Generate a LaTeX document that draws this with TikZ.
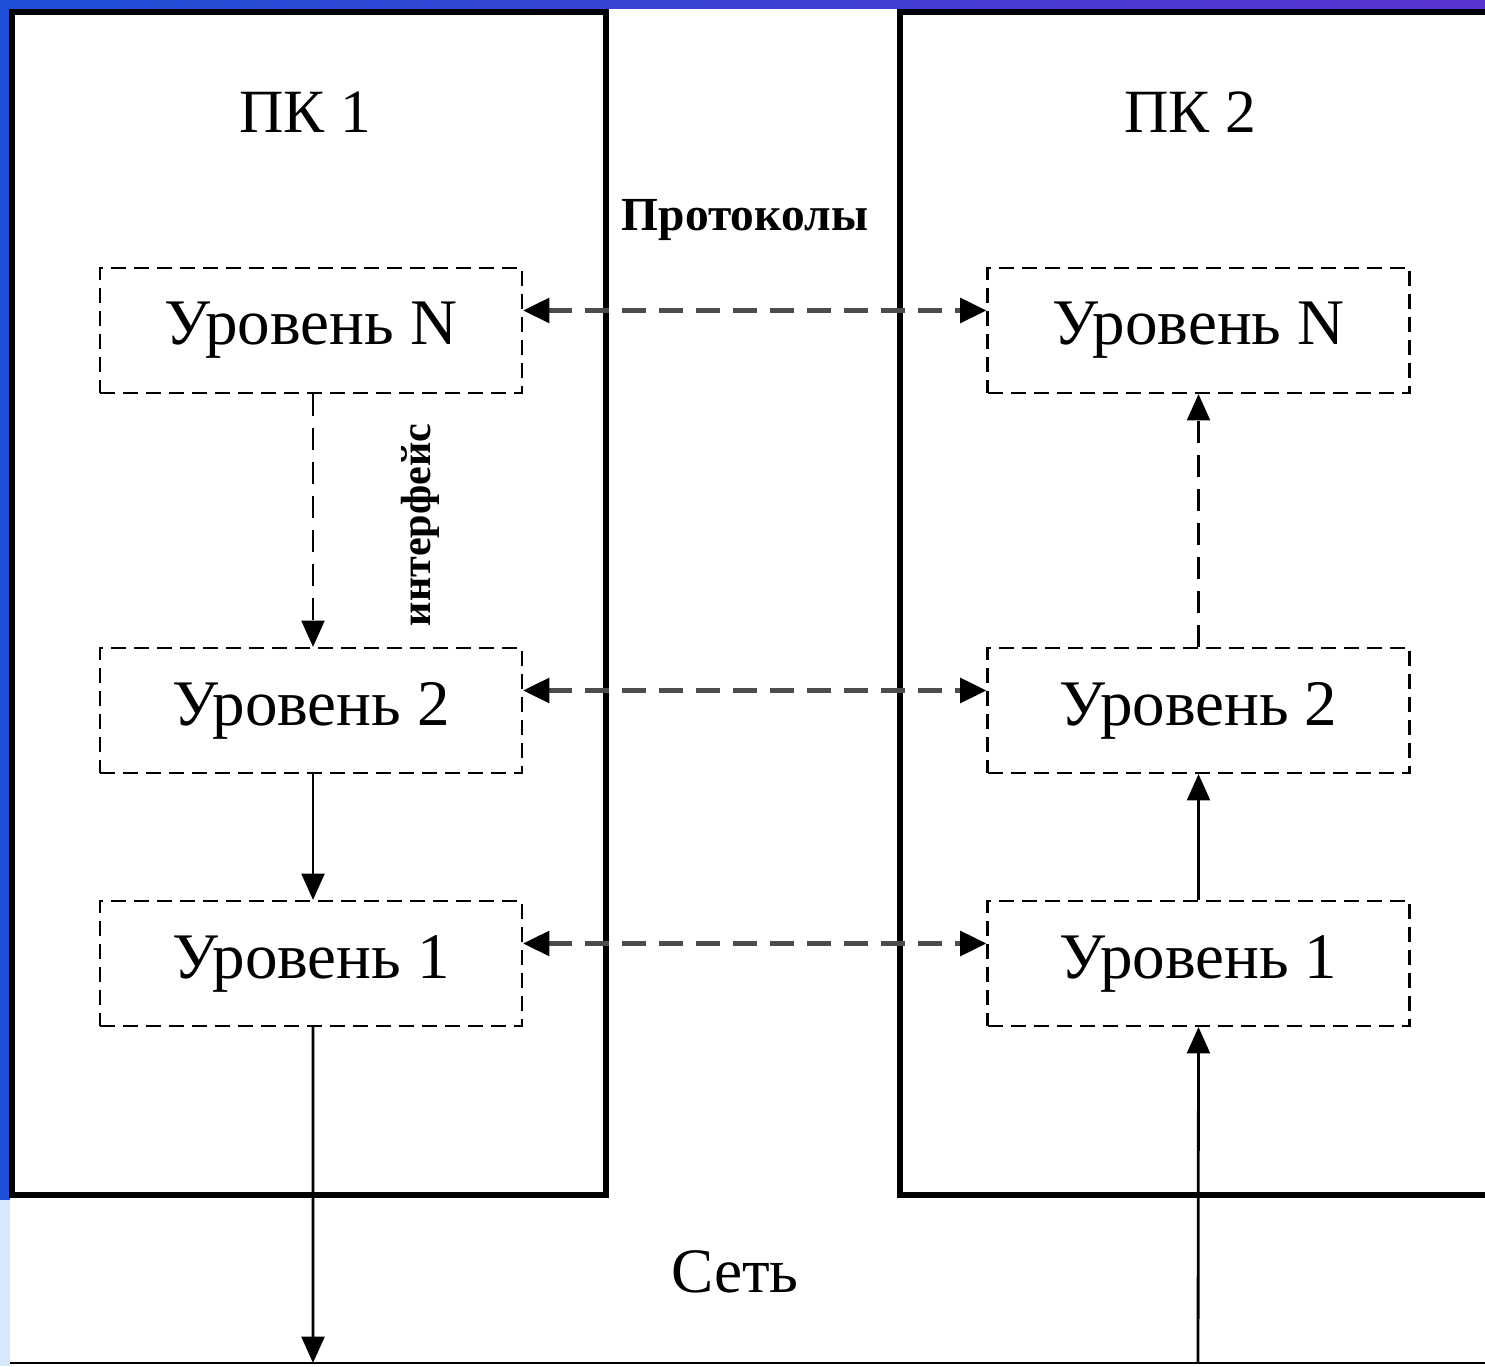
\documentclass[tikz,border=0pt]{standalone}
\usepackage{fontspec}
\setmainfont{Liberation Serif}
\usetikzlibrary{arrows.meta,positioning}

\definecolor{slideblue}{RGB}{30,80,215}
\definecolor{slideviolet}{RGB}{90,50,210}
\definecolor{slidelight}{RGB}{215,232,250}

\begin{document}
\begin{tikzpicture}[
		levelbox/.style={draw, line width=0.6pt, dash pattern=on 1.5mm off 0.8mm, minimum width=4.22cm, minimum height=1.25cm, inner sep=0pt, font=\fontsize{18.5}{22}\selectfont},
		pcbox/.style={line width=1.5pt},
		tip/.style={-{Triangle[length=7.5pt,width=6.5pt]}},
		protoline/.style={line width=1.2pt, color=black!70, dash pattern=on 2.4mm off 1.3mm, {Triangle[length=7.5pt,width=7pt,color=black]}-{Triangle[length=7.5pt,width=7pt,color=black]}},
		ifaceline/.style={tip, line width=0.8pt, dash pattern=on 2.2mm off 1.2mm},
		linkline/.style={tip, line width=0.8pt}
	]
		%%%%% START %%%%%
		
		\useasboundingbox (0, 0) rectangle (14.85, 13.66);
		\fill[white] (0, 0) rectangle (14.85, 13.66);
		
		\shade[left color=slideblue, right color=slideviolet] (0, 13.57) rectangle (14.85, 13.66);
		\fill[slideblue] (0, 1.66) rectangle (0.10, 13.66);
		\fill[slidelight] (0, 0) rectangle (0.10, 1.66);
		
		\draw[pcbox] (0.12, 13.54) rectangle (6.06, 1.71);
		\draw[pcbox] (9.00, 13.54) rectangle (15.20, 1.71);
		
		\node (pc1) at (3.05, 12.54) {\fontsize{17.5}{20}\selectfont ПК 1};
		\node (pc2) at (11.90, 12.54) {\fontsize{17.5}{20}\selectfont ПК 2};
		\node (proto) at (7.45, 11.46) {\fontsize{13.5}{16}\selectfont\bfseries Протоколы};
		\node[rotate=90] (iface) at (4.20, 8.41) {\fontsize{12}{14}\selectfont\bfseries интерфейс};
		\node (net) at (7.35, 0.94) {\fontsize{18}{21}\selectfont Сеть};
		
		\node[levelbox] (lN) at (3.11, 10.355) {Уровень N};
		\node[levelbox] (l2) at (3.11, 6.555) {Уровень 2};
		\node[levelbox] (l1) at (3.11, 4.025) {Уровень 1};
		
		\node[levelbox] (rN) at (11.985, 10.355) {Уровень N};
		\node[levelbox] (r2) at (11.985, 6.555) {Уровень 2};
		\node[levelbox] (r1) at (11.985, 4.025) {Уровень 1};
		
		\coordinate (netL) at (3.13, 0.03);
		\coordinate (netR) at (11.98, 0.03);
		\draw[line width=0.6pt] (0.10, 0.03) -- (14.85, 0.03);
		
		\draw[protoline] ([yshift=2mm]lN.east) -- ([yshift=2mm]rN.west);
		\draw[protoline] ([yshift=2mm]l2.east) -- ([yshift=2mm]r2.west);
		\draw[protoline] ([yshift=2mm]l1.east) -- ([yshift=2mm]r1.west);
		
		\draw[ifaceline] ([xshift=0.2mm]lN.south) -- ([xshift=0.2mm]l2.north);
		\draw[linkline] ([xshift=0.2mm]l2.south) -- ([xshift=0.2mm]l1.north);
		\draw[linkline] ([xshift=0.2mm]l1.south) -- (netL);
		
		\draw[linkline] (netR) -- (r1.south);
		\draw[linkline] (r1.north) -- (r2.south);
		\draw[ifaceline] (r2.north) -- (rN.south);
		
		%%%%% END %%%%%
	\end{tikzpicture}
\end{document}
